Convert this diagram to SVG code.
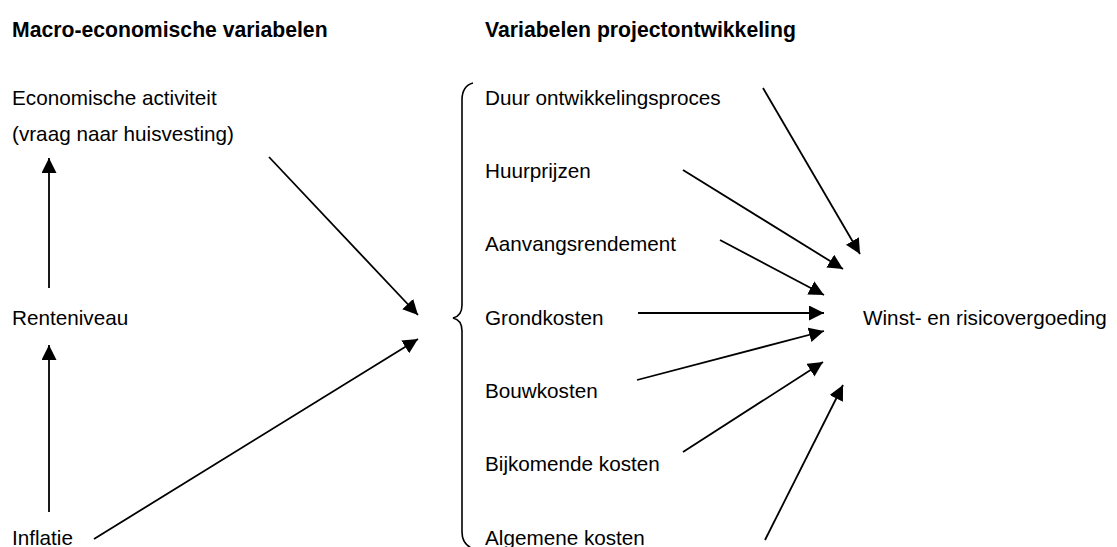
<svg xmlns="http://www.w3.org/2000/svg" width="1117" height="547" viewBox="0 0 1117 547">
<style>
text{font-family:"Liberation Sans",Arial,sans-serif;font-size:20.7px;fill:#000}
.h{font-weight:bold;font-size:21.2px}
.c{stroke:#000;stroke-width:1.8;fill:none;marker-end:url(#ah)}
</style>
<defs>
<marker id="ah" markerUnits="userSpaceOnUse" markerWidth="16" markerHeight="16" refX="15" refY="7.5" orient="auto" viewBox="0 0 16 16">
<path d="M0,0 L15,7.5 L0,15 z" fill="#000"/>
</marker>
</defs>
<rect width="1117" height="547" fill="#fff"/>
<g id="headings">
<text class="h" x="12" y="37">Macro-economische variabelen</text>
<text class="h" x="485" y="37">Variabelen projectontwikkeling</text>
</g>
<g id="n-econ"><text x="12" y="105">Economische activiteit</text><text x="12" y="141">(vraag naar huisvesting)</text></g>
<g id="n-rente"><text x="12" y="325">Renteniveau</text></g>
<g id="n-inflatie"><text x="12" y="545">Inflatie</text></g>
<g id="n-duur"><text x="485" y="105">Duur ontwikkelingsproces</text></g>
<g id="n-huur"><text x="485" y="178">Huurprijzen</text></g>
<g id="n-aanvang"><text x="485" y="251">Aanvangsrendement</text></g>
<g id="n-grond"><text x="485" y="325">Grondkosten</text></g>
<g id="n-bouw"><text x="485" y="398">Bouwkosten</text></g>
<g id="n-bijk"><text x="485" y="471">Bijkomende kosten</text></g>
<g id="n-alg"><text x="485" y="545">Algemene kosten</text></g>
<g id="n-winst"><text x="863" y="325">Winst- en risicovergoeding</text></g>
<g id="brace"><path d="M473,83 Q462,86 462,100 L462,305 Q462,316 453,318 Q462,320 462,331 L462,532 Q462,544 473,549" stroke="#000" stroke-width="1.6" fill="none"/></g>
<g id="connectors">
<line class="c" x1="49" y1="288" x2="49" y2="158"/>
<line class="c" x1="49" y1="512" x2="49" y2="345"/>
<line class="c" x1="269" y1="157" x2="418" y2="315"/>
<line class="c" x1="94" y1="539" x2="418" y2="339"/>
<line class="c" x1="763" y1="88" x2="860" y2="254"/>
<line class="c" x1="683" y1="170" x2="843" y2="269"/>
<line class="c" x1="720" y1="240" x2="824" y2="295"/>
<line class="c" x1="638" y1="313" x2="824" y2="313"/>
<line class="c" x1="637" y1="380" x2="824" y2="331"/>
<line class="c" x1="683" y1="452" x2="823" y2="362"/>
<line class="c" x1="765" y1="540" x2="843" y2="385"/>
</g>
</svg>
